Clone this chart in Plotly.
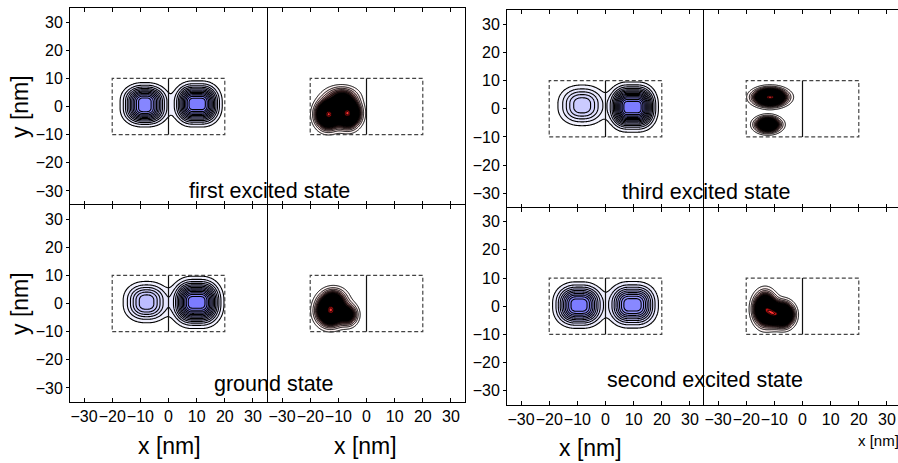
import numpy as np
import plotly.graph_objects as go

W, H = 898, 463

tick_vals = [-30, -20, -10, 0, 10, 20, 30]

# Electron densities (blue panels), one entry per dot:
# (centre x, centre y, peak, outer contour half-width x, half-width y, core half-length x, core half-length y)
first_blue = [(-8.4, 0.6, 11.8, 8.8, 7.9, 0.6, 1.1), (10.2, 0.9, 12.8, 8.9, 8.2, 1.5, 0.6)]
ground_blue = [(-7.8, 0.5, 6.8, 8.3, 7.35, 0.25, 0.6), (10.0, 0.4, 13.8, 9.7, 9.3, 1.5, 0.5)]
third_blue = [(-8.3, 1.2, 5.8, 8.6, 7.2, 0.3, 0.5), (9.6, 0.6, 14.8, 9.2, 8.9, 1.8, 0.6)]
second_blue = [(-9.4, 0.4, 10.8, 9.4, 8.25, 1.1, 0.55), (9.6, 0.5, 9.8, 9.2, 8.25, 1.3, 0.45)]

# Hole densities (dark panels): (centre x, centre y, peak, width x, width y)
first_dark = [(-13.6, -2.8, 1.0, 2.5, 2.9), (-6.6, -2.4, 1.0, 2.5, 2.9), (-9.0, 3.6, 0.3, 3.4, 2.1)]
ground_dark = [(-12.8, -2.6, 1.0, 2.8, 3.0), (-6.5, -4.0, 0.4, 2.0, 2.3), (-11.5, 1.8, 0.25, 2.8, 2.3)]
third_dark = [(-11.5, 4.1, 1.0, 3.3, 1.75), (-12.3, -5.6, 0.7, 2.6, 1.6)]
second_dark = [(-13.3, -1.0, 1.0, 2.3, 3.3), (-10.3, -2.8, 0.5, 1.6, 2.3), (-6.8, -3.0, 0.95, 2.2, 2.5)]

state_labels = ["first excited state", "ground state", "third excited state", "second excited state"]

grid = np.linspace(-35, 35, 281)
X, Y = np.meshgrid(grid, grid)


def electron_density(blobs, p=2.2):
    z = np.zeros_like(X)
    for cx, cy, amp, vx, vy, rx, ry in blobs:
        # the outermost contour (level 1) lies r1 widths beyond the core
        r1 = (2 * np.log(amp)) ** (1.0 / p)
        sx = (vx - rx) / r1
        sy = (vy - ry) / r1
        u = np.maximum(np.abs(X - cx) - rx, 0) / sx
        v = np.maximum(np.abs(Y - cy) - ry, 0) / sy
        z += amp * np.exp(-0.5 * (u ** p + v ** p))
    return z


def hole_density(blobs):
    z = np.zeros_like(X)
    for x0, y0, amp, sx, sy in blobs:
        z += amp * np.exp(-0.5 * (((X - x0) / sx) ** 2 + ((Y - y0) / sy) ** 2))
    return z


# pixel boxes of each panel: (left, right, top, bottom)
panels = [
    dict(box=(70, 268, 8, 205), blobs=first_blue, kind="blue", ylab=True, xlab=False),
    dict(box=(268, 465, 8, 205), blobs=first_dark, kind="dark", ylab=False, xlab=False),
    dict(box=(70, 268, 205, 402), blobs=ground_blue, kind="blue", ylab=True, xlab=True),
    dict(box=(268, 465, 205, 402), blobs=ground_dark, kind="dark", ylab=False, xlab=True),
    dict(box=(507, 704, 10, 207.5), blobs=third_blue, kind="blue", ylab=True, xlab=False),
    dict(box=(704, 898, 10, 207.5), blobs=third_dark, kind="dark", ylab=False, xlab=False),
    dict(box=(507, 704, 207.5, 405), blobs=second_blue, kind="blue", ylab=True, xlab=True),
    dict(box=(704, 898, 207.5, 405), blobs=second_dark, kind="dark", ylab=False, xlab=True),
]

blue_scale = [[0, "#ffffff"], [0.1, "#ededff"], [0.5, "#b8b8ff"], [1, "#7c7cff"]]
DARK_LEVELS = 24


def dark_scale(n):
    f = 1.0 / n
    return [[0, "#ffffff"], [f, "#fdf2f2"], [2 * f, "#f5dcdc"], [3 * f, "#e6bcbc"],
            [5 * f, "#6a3a3a"], [7 * f, "#000000"], [(n - 2) * f, "#000000"],
            [(n - 1) * f, "#c01010"], [1, "#ff3030"]]


fig = go.Figure()
layout = dict(width=W, height=H, margin=dict(l=0, r=0, t=0, b=0),
              paper_bgcolor="white", plot_bgcolor="white", showlegend=False,
              font=dict(family="Liberation Sans, Arial, sans-serif", color="black"))
shapes = []
PX_PER_UNIT = 197 / 70.0

for i, p in enumerate(panels, start=1):
    left, right, top, bottom = p["box"]
    xr = [-35, -35 + (right - left) / PX_PER_UNIT]
    yr = [-35, 35]
    if p["kind"] == "blue":
        z = electron_density(p["blobs"])
        n = int(np.floor(z.max()))
        contours = dict(start=1, end=n + 0.1, size=1, coloring="fill")
        scale = blue_scale
        lw = 1.1
    else:
        z = hole_density(p["blobs"])
        size = z.max() / (DARK_LEVELS + 0.5)
        contours = dict(start=size, end=(DARK_LEVELS + 0.1) * size, size=size, coloring="fill")
        scale = dark_scale(DARK_LEVELS)
        lw = 1.0
    fig.add_trace(go.Contour(
        x=grid, y=grid, z=z, xaxis=f"x{i}", yaxis=f"y{i}",
        autocontour=False, contours=contours, colorscale=scale, showscale=False,
        line=dict(color="black", width=lw), hoverinfo="skip"))

    sfx = "" if i == 1 else str(i)
    layout[f"xaxis{sfx}"] = dict(
        domain=[left / W, right / W], range=xr, anchor=f"y{i}",
        showline=True, linecolor="black", linewidth=1, mirror="ticks",
        ticks="inside", ticklen=4, tickcolor="black", tickvals=tick_vals, tickangle=0,
        showticklabels=p["xlab"], tickfont=dict(size=16),
        showgrid=False, zeroline=False, fixedrange=True)
    layout[f"yaxis{sfx}"] = dict(
        domain=[1 - bottom / H, 1 - top / H], range=yr, anchor=f"x{i}",
        showline=True, linecolor="black", linewidth=1, mirror=True,
        ticks="outside" if p["ylab"] else "", ticklen=3, tickcolor="black",
        tickvals=tick_vals, showticklabels=p["ylab"], tickfont=dict(size=16),
        showgrid=False, zeroline=False, fixedrange=True)

    # quantum dot boundaries
    shapes.append(dict(type="rect", xref=f"x{i}", yref=f"y{i}", x0=-20, x1=20, y0=-10, y1=10,
                       line=dict(color="#444444", width=1.2, dash="4px,2.5px")))
    shapes.append(dict(type="line", xref=f"x{i}", yref=f"y{i}", x0=0, x1=0, y0=-10, y1=10,
                       line=dict(color="#111111", width=1.2)))

layout["shapes"] = shapes


def ann(text, px, py, size, angle=0):
    return dict(text=text, x=px / W, y=1 - py / H, xref="paper", yref="paper",
                xanchor="center", yanchor="middle", showarrow=False,
                textangle=angle, font=dict(size=size, color="black"))


layout["annotations"] = [
    ann(state_labels[0], 269, 191, 21.5),
    ann(state_labels[1], 274, 384, 21.5),
    ann(state_labels[2], 706, 192, 21.5),
    ann(state_labels[3], 705, 380, 21.5),
    ann("y [nm]", 20, 107, 23, -90),
    ann("y [nm]", 20, 304, 23, -90),
    ann("x [nm]", 169, 446, 23),
    ann("x [nm]", 365, 446, 23),
    ann("x [nm]", 590, 448, 23),
    ann("x [nm]", 878, 440, 15),
]

fig.update_layout(**layout)
fig.write_html("out.html")
